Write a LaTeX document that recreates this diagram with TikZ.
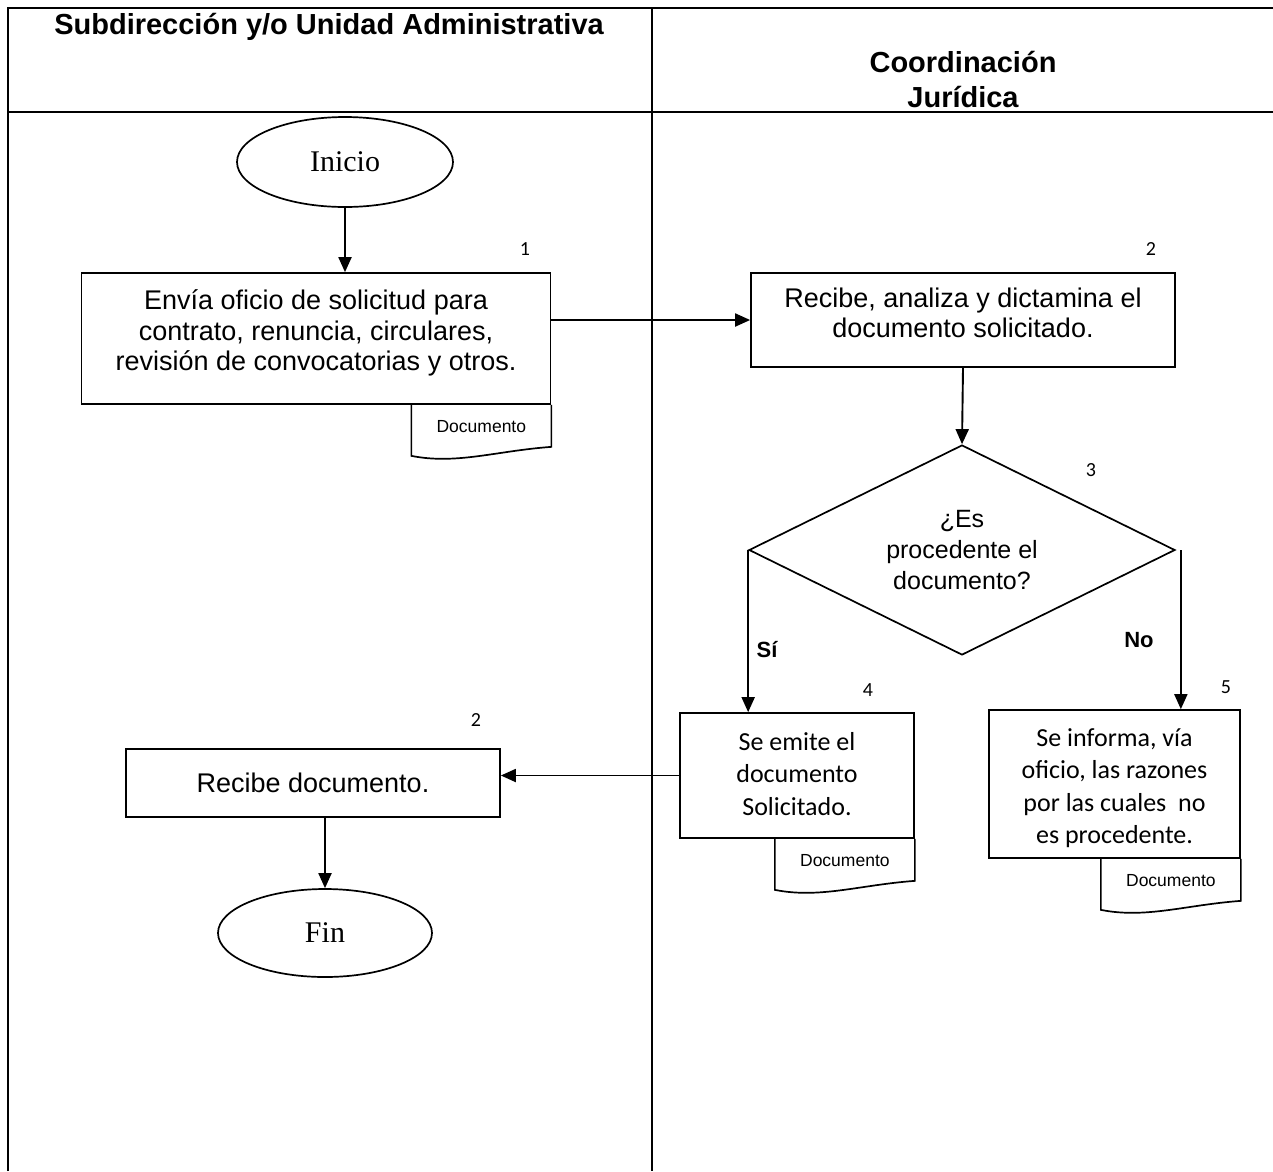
\documentclass[tikz,border=0pt]{standalone}
\usepackage{fontspec}
\setmainfont{Liberation Sans}
\newfontfamily\serifface{Liberation Serif}
\newfontfamily\calface{Carlito}
\usetikzlibrary{shapes.geometric,arrows.meta,calc}

% document symbol hanging under the lower right corner of a box
\newcommand{\docsheet}[2]{%
  \draw[docline] ($(#1.south east)+(-140,0)$) -- ++(0,51)
    .. controls +(45,9) and +(-55,4) .. ($(#1.south east)+(0,42)$)
    -- (#1.south east);
  \node[doctext] (#2) at ($(#1.south east)+(-70,22)$) {Documento};
}

\begin{document}
\begin{tikzpicture}[x=1pt,y=-1pt,
  frame/.style={line width=2.6pt},
  head/.style={font=\bfseries\fontsize{29}{35}\selectfont,align=center,inner sep=0pt},
  box/.style={draw,line width=1.7pt,inner sep=0pt,align=center,
    font=\fontsize{27}{31}\selectfont},
  boxtext/.style={inner sep=0pt,align=center,font=\fontsize{27}{30.5}\selectfont},
  caltext/.style={inner sep=0pt,align=center,font=\calface\fontsize{26}{32.5}\selectfont},
  term/.style={draw,ellipse,line width=1.7pt,inner sep=0pt,
    font=\serifface\fontsize{30}{34}\selectfont},
  decision/.style={draw,diamond,aspect=2,line width=1.7pt,inner sep=0pt,align=center,
    font=\fontsize{25}{31}\selectfont},
  arr/.style={line width=1.9pt,-{Triangle[length=15pt,width=13pt]}},
  num/.style={font=\calface\fontsize{20}{22}\selectfont,inner sep=0pt},
  answer/.style={font=\bfseries\fontsize{22}{24}\selectfont,inner sep=0pt},
  docline/.style={line width=1.7pt},
  doctext/.style={font=\fontsize{17.5}{19}\selectfont,inner sep=0pt}
]
\useasboundingbox (0,0) rectangle (1273,1171);

% swimlane table
\draw[frame] (8,1171) -- (8,8) -- (1273,8);
\draw[frame] (8,112) -- (1273,112);
\draw[frame] (652,8) -- (652,1171);
\node[head] (lane1) at (329,27) {Subdirección y/o Unidad Administrativa};
\node[head] (lane2) at (963,80) {Coordinación\\Jurídica};

% flow nodes
\node[term,minimum width=216,minimum height=90] (ini) at (345,162) {Inicio};
\node[box,minimum width=469,minimum height=131] (b1) at (316,338.5) {};
\node[boxtext] (t1) at (316,333)
  {Envía oficio de solicitud para\\contrato, renuncia, circulares,\\revisión de convocatorias y otros.};
\node[box,minimum width=424,minimum height=94] (b2) at (963,320) {};
\node[boxtext] (t2) at (963,313)
  {Recibe, analiza y dictamina el\\documento solicitado.};
\node[decision,minimum width=426,minimum height=210] (dia) at (962,550)
  {¿Es\\procedente el\\documento?};
\node[box,minimum width=234,minimum height=125] (b4) at (797,775.5) {};
\node[caltext] (t4) at (797,774) {Se emite el\\documento\\Solicitado.};
\node[box,minimum width=251,minimum height=148] (b5) at (1114.5,784) {};
\node[caltext] (t5) at (1114.5,788)
  {Se informa, vía\\oficio, las razones\\por las cuales~~no\\es procedente.};
\node[box,minimum width=374,minimum height=68] (rec) at (313,783)
  {Recibe documento.};
\node[term,minimum width=214,minimum height=88] (fin) at (325,933) {Fin};

% document symbols
\docsheet{b1}{d1}
\docsheet{b4}{d4}
\docsheet{b5}{d5}

% step numbers
\node[num] (n1) at (525,249) {1};
\node[num] (n2) at (1151,249) {2};
\node[num] (n3) at (1091,470) {3};
\node[num] (n4) at (868,690) {4};
\node[num] (n5) at (1226,687) {5};
\node[num] (n6) at (476,720) {2};

% answers of the decision
\node[answer] (si) at (767,650) {Sí};
\node[answer] (no) at (1139,640) {No};

% connectors
\draw[arr] (ini.south) -- (ini.south |- b1.north);
\draw[arr] (b2.west -| b1.east) -- (b2.west);
\draw[arr] (b2.south) -- (dia.north);
\draw[arr] (dia.west) -- (dia.west |- b4.north);
\draw[arr] ($(dia.east)+(5,0)$) -- ($(dia.east |- b5.north)+(5,0)$);
\draw[arr] (b4.west) -- (b4.west -| rec.east);
\draw[arr] (fin.north |- rec.south) -- (fin.north);
\end{tikzpicture}
\end{document}
